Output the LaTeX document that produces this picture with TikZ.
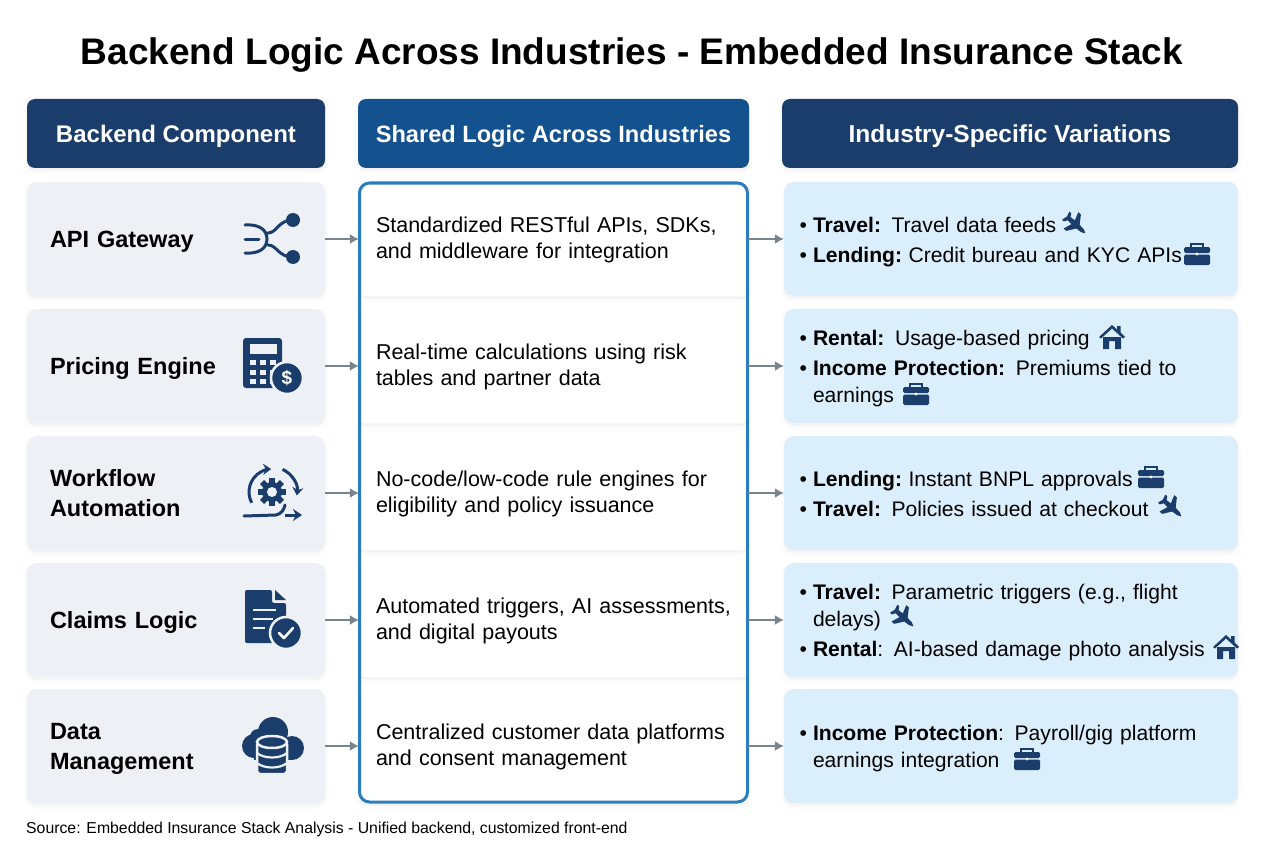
\documentclass[tikz,border=0pt]{standalone}
\usepackage{fontspec}
\setmainfont{Liberation Sans}
\usetikzlibrary{arrows.meta}

\definecolor{navy}{HTML}{1B3D6B}
\definecolor{midblue}{HTML}{14528F}
\definecolor{rimblue}{HTML}{2B7DBE}
\definecolor{compgrey}{HTML}{EDF0F5}
\definecolor{varblue}{HTML}{DAEEFB}
\definecolor{flowgrey}{HTML}{78858F}

\newcommand{\bul}{\leavevmode\llap{\textbullet\hspace{6pt}}}

\tikzset{
softshadow/.style={
preaction={fill=black,draw=black,line width=9pt,opacity=.005,transform canvas={yshift=-3pt}},
preaction={fill=black,draw=black,line width=5pt,opacity=.01,transform canvas={yshift=-3pt}},
preaction={fill=black,draw=black,line width=1pt,opacity=.012,transform canvas={yshift=-2pt}}},
headbox/.style={rectangle,rounded corners=8pt,softshadow,minimum height=69pt,inner sep=0pt,
execute at begin node=\rule{0pt}{23pt},text=white,font=\fontsize{24}{28}\selectfont\bfseries},
compcard/.style={rectangle,rounded corners=10pt,softshadow,fill=compgrey,minimum width=298pt,minimum height=114pt,
inner xsep=23pt,inner ysep=0pt,text width=252pt,align=left,execute at begin node=\rule{0pt}{22pt},
execute at end node=\rule[-6pt]{0pt}{6pt},font=\fontsize{23.5}{30}\selectfont\bfseries},
sharecard/.style={rectangle,rounded corners=6pt,softshadow,fill=white,minimum width=389pt,minimum height=114pt,
inner xsep=17pt,inner ysep=0pt,text width=355pt,align=left,execute at begin node=\rule{0pt}{18.5pt},
execute at end node=\rule[-6pt]{0pt}{6pt},font=\fontsize{21.5}{26.5}\selectfont},
varcard/.style={rectangle,rounded corners=10pt,softshadow,fill=varblue,minimum width=454pt,minimum height=114pt,
inner xsep=29pt,inner ysep=0pt,text width=396pt,align=left,execute at begin node=\rule{0pt}{22.5pt},
execute at end node=\rule[-6pt]{0pt}{6pt},font=\fontsize{21.1}{27}\selectfont},
flow/.style={flowgrey,line width=1.3pt,-{Latex[length=9pt,width=10pt]}},
plane/.pic={
\fill[navy,rotate=-42] (14,0) -- (10,-2) -- (4,-2.5) -- (-2,-11) -- (-5.5,-11) -- (-2.5,-2.5) -- (-8,-2.2) -- (-10,-5.5) -- (-12.5,-5.5)
-- (-11,0) -- (-12.5,5.5) -- (-10,5.5) -- (-8,2.2) -- (-2.5,2.5) -- (-5.5,11) -- (-2,11) -- (4,2.5) -- (10,2) -- cycle;
},
house/.pic={
\fill[navy] (-9,0) -- (9,0) -- (9,12) -- (3,12) -- (3,4) -- (-3,4) -- (-3,12) -- (-9,12) -- cycle;
\fill[navy] (-13,0) -- (0,-12) -- (5,-7.5) -- (5,-11) -- (8.5,-11) -- (8.5,-4.5) -- (13,0) -- (11,1.5) -- (0,-8.5) -- (-11,1.5) -- cycle;
},
briefcase/.pic={
\draw[navy,line width=1.6pt] (-6,-6) -- (-6,-10) -- (6,-10) -- (6,-6);
\fill[navy,rounded corners=1.5pt] (-13,-7) rectangle (13,-1);
\fill[navy,rounded corners=1.5pt] (-13,0.5) rectangle (13,11);
\fill[white] (0,0) circle [radius=1.6];
},
apiicon/.pic={
\draw[navy,line width=3pt,line cap=round] (-27,-14) .. controls (-14,-15) and (-5,-10) .. (-5,0) .. controls (-5,10) and (-14,15) .. (-27,14);
\draw[navy,line width=3pt,line cap=round] (-27,0) -- (-13,0);
\draw[navy,line width=3pt,line cap=round] (-4,-6) .. controls (5,-6) and (6,-19) .. (21,-19);
\draw[navy,line width=3pt,line cap=round] (-4,6) .. controls (5,6) and (6,18) .. (21,18);
\fill[navy] (21,-19) circle [radius=7];
\fill[navy] (21,18) circle [radius=7];
},
calcicon/.pic={
\fill[navy,rounded corners=3pt] (-19,-25) rectangle (20,25);
\fill[compgrey] (-12,-19) rectangle (15,-9);
\foreach \kx in {-9,1,11} {
\foreach \ky in {-1,9,18} {
\fill[compgrey] (\kx-3,\ky-2.5) rectangle (\kx+3,\ky+2.5);
}
}
\draw[navy,fill=navy,postaction={draw=compgrey,line width=2.5pt}] (25,15) circle [radius=16];
\node (dollar) [text=white,font=\fontsize{19}{19}\selectfont\bfseries] at (25,15) {\$};
},
flowicon/.pic={
\foreach \a in {0,45,...,315} {
\fill[navy,rotate=\a] (-3,-14) rectangle (3,-8);
}
\fill[navy] (0,0) circle [radius=10];
\fill[compgrey] (0,0) circle [radius=5];
\draw[navy,line width=3pt,-{Stealth[length=8pt,width=11pt]}] (152:23) arc [start angle=152,end angle=268,radius=23];
\draw[navy,line width=3pt,-{Stealth[length=8pt,width=11pt]}] (-65:25) arc [start angle=-65,end angle=8,radius=25];
\draw[navy,line width=3pt,line cap=round] (-28,24) -- (4,23) .. controls (9,22) and (12,18) .. (13,13);
\draw[navy,line width=3pt,-{Stealth[length=9pt,width=12pt]}] (13,23) -- (30,23);
},
docicon/.pic={
\fill[navy,rounded corners=2pt] (-21,-27) -- (6,-27) -- (6,-14) -- (20,-14) -- (20,26) -- (-21,26) -- cycle;
\fill[navy] (9,-27) -- (20,-17) -- (9,-17) -- cycle;
\draw[compgrey,line width=2.4pt] (-13,-7) -- (10,-7);
\draw[compgrey,line width=2.4pt] (-13,2) -- (7,2);
\draw[compgrey,line width=2.4pt] (-13,11) -- (-1,11);
\draw[navy,fill=navy,postaction={draw=compgrey,line width=2.5pt}] (20,16) circle [radius=16];
\draw[white,line width=2.6pt,line cap=round,line join=round] (13,16) -- (18,21) -- (27,11);
},
dataicon/.pic={
\fill[navy] (1,-13) circle [radius=15];
\fill[navy] (-18,1) circle [radius=12];
\fill[navy] (20,3) circle [radius=12];
\fill[navy] (-18,1) rectangle (20,15);
\fill[navy] (-14,-8) circle [radius=8];
\draw[compgrey,line width=2.5pt,fill=navy,rounded corners=3pt] (-15,-3) -- (-15,29) -- (15,29) -- (15,-3) -- cycle;
\draw[compgrey,line width=2.5pt,fill=navy] (0,-3) ellipse [x radius=15,y radius=6];
\draw[compgrey,line width=2.2pt] (-15,8) .. controls (-8,14) and (8,14) .. (15,8);
\draw[compgrey,line width=2.2pt] (-15,18) .. controls (-8,24) and (8,24) .. (15,18);
},
}

\begin{document}
\begin{tikzpicture}[x=1pt,y=-1pt]
\useasboundingbox (0,0) rectangle (1264,848);
\fill[white] (0,0) rectangle (1264,848);

\node (title) [font=\fontsize{37}{40}\selectfont\bfseries] at (632,55.5) {Backend Logic Across Industries - Embedded Insurance Stack};

\node (headcomp) [headbox,fill=navy,minimum width=298pt] at (176,133.5) {Backend Component};
\node (headshare) [headbox,fill=midblue,minimum width=391pt,font=\fontsize{23.6}{28}\selectfont\bfseries] at (553.5,133.5) {Shared Logic Across Industries};
\node (headvar) [headbox,fill=navy,minimum width=456pt,font=\fontsize{24.5}{28}\selectfont\bfseries] at (1010,133.5) {Industry-Specific Variations\hspace{18pt}};

\node (comp1) [compcard] at (176,239) {API Gateway};
\node (comp2) [compcard] at (176,366) {Pricing Engine};
\node (comp3) [compcard] at (176,493) {Workflow\\Automation};
\node (comp4) [compcard] at (176,620) {Claims Logic};
\node (comp5) [compcard] at (176,746) {Data\\Management};

\node (share1) [sharecard] at (553.5,239) {Standardized RESTful APIs, SDKs,\\and middleware for integration};
\node (share2) [sharecard] at (553.5,366) {Real-time calculations using risk\\tables and partner data};
\node (share3) [sharecard] at (553.5,493) {No-code/low-code rule engines for\\eligibility and policy issuance};
\node (share4) [sharecard] at (553.5,620) {Automated triggers, AI assessments,\\and digital payouts};
\node (share5) [sharecard] at (553.5,746) {Centralized customer data platforms\\and consent management};

\node (var1) [varcard] at (1011,239) {\bul\textbf{Travel:} Travel data feeds\\[3pt]\bul\textbf{Lending:}\hspace{-4pt} Credit bureau and KYC APIs};
\node (var2) [varcard] at (1011,366) {\bul\textbf{Rental:} Usage-based pricing\\[3pt]\bul\textbf{Income Protection:} Premiums tied to\\earnings};
\node (var3) [varcard] at (1011,493) {\bul\textbf{Lending:}\hspace{-4pt} Instant BNPL approvals\\[3pt]\bul\textbf{Travel:} Policies issued at checkout};
\node (var4) [varcard] at (1011,620) {\bul\textbf{Travel:} Parametric triggers (e.g., flight\\delays)\\[3pt]\bul\textbf{Rental}: AI-based damage photo analysis};
\node (var5) [varcard] at (1011,746) {\bul\textbf{Income Protection}: Payroll/gig platform\\earnings integration};

% frame round the middle column
\draw[rimblue,line width=3pt,rounded corners=10pt] (359.5,183) rectangle (747.5,802);

\foreach \i in {1,...,5} {
\draw[flow] (comp\i) -- (share\i);
\draw[flow] (share\i) -- (var\i);
}

\pic at (272,239) {apiicon};
\pic at (262,363) {calcicon};
\pic at (272,492) {flowicon};
\pic at (266,617) {docicon};
\pic at (272,745) {dataicon};

\pic at (1075,224) {plane};
\pic at (1197,254) {briefcase};
\pic at (1112,337) {house};
\pic at (916,394) {briefcase};
\pic at (1151,477) {briefcase};
\pic at (1171,507) {plane};
\pic at (903,617) {plane};
\pic at (1226,647) {house};
\pic at (1027,759) {briefcase};

\node (source) [anchor=west,inner sep=0pt,font=\fontsize{15.8}{17}\selectfont] at (26,829) {Source: Embedded Insurance Stack Analysis - Unified backend, customized front-end};
\end{tikzpicture}
\end{document}
